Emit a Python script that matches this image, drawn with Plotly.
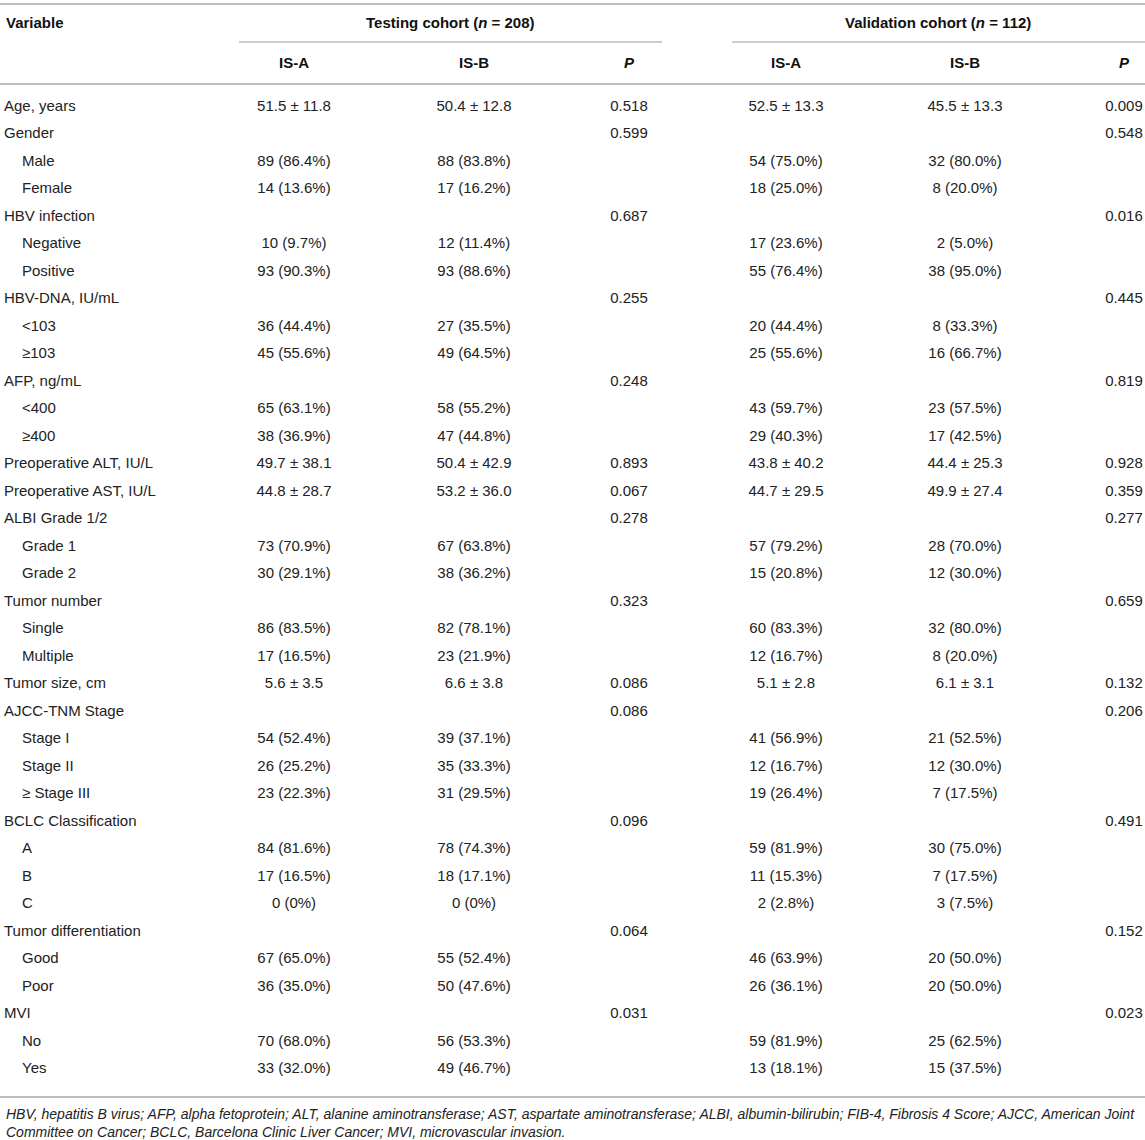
import plotly.graph_objects as go

# rows of the table
variables = [
    "Age, years", "Gender", "Male", "Female", "HBV infection", "Negative", "Positive",
    "HBV-DNA, IU/mL", "<103", "≥103", "AFP, ng/mL", "<400", "≥400",
    "Preoperative ALT, IU/L", "Preoperative AST, IU/L", "ALBI Grade 1/2", "Grade 1", "Grade 2",
    "Tumor number", "Single", "Multiple", "Tumor size, cm", "AJCC-TNM Stage",
    "Stage I", "Stage II", "≥ Stage III", "BCLC Classification", "A", "B", "C",
    "Tumor differentiation", "Good", "Poor", "MVI", "No", "Yes",
]
indented = [
    0, 0, 1, 1, 0, 1, 1,
    0, 1, 1, 0, 1, 1,
    0, 0, 0, 1, 1,
    0, 1, 1, 0, 0,
    1, 1, 1, 0, 1, 1, 1,
    0, 1, 1, 0, 1, 1,
]

test_a = [
    "51.5 ± 11.8", "", "89 (86.4%)", "14 (13.6%)", "", "10 (9.7%)", "93 (90.3%)",
    "", "36 (44.4%)", "45 (55.6%)", "", "65 (63.1%)", "38 (36.9%)",
    "49.7 ± 38.1", "44.8 ± 28.7", "", "73 (70.9%)", "30 (29.1%)",
    "", "86 (83.5%)", "17 (16.5%)", "5.6 ± 3.5", "",
    "54 (52.4%)", "26 (25.2%)", "23 (22.3%)", "", "84 (81.6%)", "17 (16.5%)", "0 (0%)",
    "", "67 (65.0%)", "36 (35.0%)", "", "70 (68.0%)", "33 (32.0%)",
]
test_b = [
    "50.4 ± 12.8", "", "88 (83.8%)", "17 (16.2%)", "", "12 (11.4%)", "93 (88.6%)",
    "", "27 (35.5%)", "49 (64.5%)", "", "58 (55.2%)", "47 (44.8%)",
    "50.4 ± 42.9", "53.2 ± 36.0", "", "67 (63.8%)", "38 (36.2%)",
    "", "82 (78.1%)", "23 (21.9%)", "6.6 ± 3.8", "",
    "39 (37.1%)", "35 (33.3%)", "31 (29.5%)", "", "78 (74.3%)", "18 (17.1%)", "0 (0%)",
    "", "55 (52.4%)", "50 (47.6%)", "", "56 (53.3%)", "49 (46.7%)",
]
test_p = [
    "0.518", "0.599", "", "", "0.687", "", "",
    "0.255", "", "", "0.248", "", "",
    "0.893", "0.067", "0.278", "", "",
    "0.323", "", "", "0.086", "0.086",
    "", "", "", "0.096", "", "", "",
    "0.064", "", "", "0.031", "", "",
]
val_a = [
    "52.5 ± 13.3", "", "54 (75.0%)", "18 (25.0%)", "", "17 (23.6%)", "55 (76.4%)",
    "", "20 (44.4%)", "25 (55.6%)", "", "43 (59.7%)", "29 (40.3%)",
    "43.8 ± 40.2", "44.7 ± 29.5", "", "57 (79.2%)", "15 (20.8%)",
    "", "60 (83.3%)", "12 (16.7%)", "5.1 ± 2.8", "",
    "41 (56.9%)", "12 (16.7%)", "19 (26.4%)", "", "59 (81.9%)", "11 (15.3%)", "2 (2.8%)",
    "", "46 (63.9%)", "26 (36.1%)", "", "59 (81.9%)", "13 (18.1%)",
]
val_b = [
    "45.5 ± 13.3", "", "32 (80.0%)", "8 (20.0%)", "", "2 (5.0%)", "38 (95.0%)",
    "", "8 (33.3%)", "16 (66.7%)", "", "23 (57.5%)", "17 (42.5%)",
    "44.4 ± 25.3", "49.9 ± 27.4", "", "28 (70.0%)", "12 (30.0%)",
    "", "32 (80.0%)", "8 (20.0%)", "6.1 ± 3.1", "",
    "21 (52.5%)", "12 (30.0%)", "7 (17.5%)", "", "30 (75.0%)", "7 (17.5%)", "3 (7.5%)",
    "", "20 (50.0%)", "20 (50.0%)", "", "25 (62.5%)", "15 (37.5%)",
]
val_p = [
    "0.009", "0.548", "", "", "0.016", "", "",
    "0.445", "", "", "0.819", "", "",
    "0.928", "0.359", "0.277", "", "",
    "0.659", "", "", "0.132", "0.206",
    "", "", "", "0.491", "", "", "",
    "0.152", "", "", "0.023", "", "",
]

group_headers = ["Testing cohort (<i>n</i> = 208)", "Validation cohort (<i>n</i> = 112)"]
col_headers = ["IS-A", "IS-B", "<i>P</i>", "IS-A", "IS-B", "<i>P</i>"]
footnote = ("HBV, hepatitis B virus; AFP, alpha fetoprotein; ALT, alanine aminotransferase; "
            "AST, aspartate aminotransferase; ALBI, albumin-bilirubin; FIB-4, Fibrosis 4 Score; "
            "AJCC, American Joint<br>Committee on Cancer; BCLC, Barcelona Clinic Liver Cancer; "
            "MVI, microvascular invasion.")

W, H = 1145, 1140
FONT = "Liberation Sans, Arial, sans-serif"
TXT = "#222222"
LINE = "#bdbdbd"

row0, step = 107, 27.5
rows_y = [row0 + i * step for i in range(len(variables))]
col_x = [294, 474, 629, 786, 965, 1124]
group_x = [450, 938]

fig = go.Figure()

# first column
fig.add_trace(go.Scatter(
    x=[22 if ind else 4 for ind in indented], y=rows_y,
    text=variables, mode="text", textposition="middle right",
    textfont=dict(family=FONT, size=15, color=TXT),
    hoverinfo="skip", cliponaxis=False, showlegend=False,
))

for cx, col in zip(col_x, [test_a, test_b, test_p, val_a, val_b, val_p]):
    fig.add_trace(go.Scatter(
        x=[cx] * len(col), y=rows_y, text=col, mode="text",
        textposition="middle center",
        textfont=dict(family=FONT, size=15, color=TXT),
        hoverinfo="skip", cliponaxis=False, showlegend=False,
    ))

# header text
fig.add_annotation(x=4, y=22, text="<b>Variable</b>", xanchor="left", showarrow=False,
                   font=dict(family=FONT, size=15, color="#111"))
for gx, g in zip(group_x, group_headers):
    fig.add_annotation(x=gx, y=22, text="<b>" + g + "</b>", showarrow=False,
                       font=dict(family=FONT, size=15, color="#111"))
for cx, h in zip(col_x, col_headers):
    fig.add_annotation(x=cx, y=62, text="<b>" + h + "</b>", showarrow=False,
                       font=dict(family=FONT, size=15, color="#111"))

fig.add_annotation(x=4, y=1123, text="<i>" + footnote + "</i>", xanchor="left", align="left",
                   showarrow=False, font=dict(family=FONT, size=14, color=TXT))

# rules
for y0, x0, x1, w in [(4, 0, W, 2), (42, 239, 662, 1.5), (42, 732, W, 1.5),
                      (84, 0, W, 2), (1097, 0, W, 2)]:
    fig.add_shape(type="line", x0=x0, x1=x1, y0=y0, y1=y0, xref="x", yref="y",
                  line=dict(color=LINE, width=w))

fig.update_layout(
    width=W, height=H, margin=dict(l=0, r=0, t=0, b=0),
    paper_bgcolor="white", plot_bgcolor="white",
    xaxis=dict(range=[0, W], visible=False, fixedrange=True),
    yaxis=dict(range=[H, 0], visible=False, fixedrange=True),
)

fig.write_html("out.html", config={"displayModeBar": False},
               post_script="document.body.style.margin='0';document.body.style.overflow='hidden';")
